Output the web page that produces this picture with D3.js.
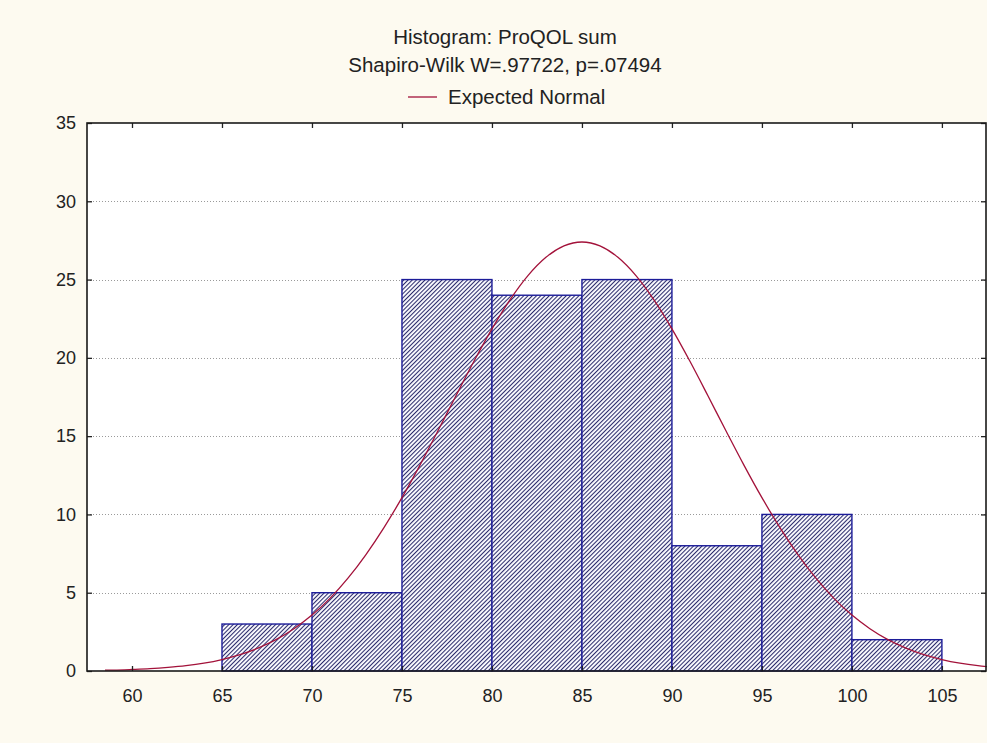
<!DOCTYPE html>
<html>
<head>
<meta charset="utf-8">
<script src="https://cdn.jsdelivr.net/npm/d3@7"></script>
<style>
  body { margin: 0; background: #fdfaf0; }
  text { font-family: "Liberation Sans", Arial, sans-serif; fill: #222; }
</style>
</head>
<body>
<svg id="chart" width="987" height="743"></svg>
<script>
// histogram bins (lower edge, upper edge) and counts
var binStart = [65, 70, 75, 80, 85, 90, 95, 100];
var binEnd   = [70, 75, 80, 85, 90, 95, 100, 105];
var counts   = [3, 5, 25, 24, 25, 8, 10, 2];

// expected normal curve
var curveX = [58.5, 59, 60, 61, 62, 63, 64, 65, 66, 67, 68, 69, 70, 71, 72, 73, 74, 75, 76, 77, 78, 79, 80,
              81, 82, 83, 84, 85, 86, 87, 88, 89, 90, 91, 92, 93, 94, 95, 96, 97, 98, 99, 100,
              101, 102, 103, 104, 105, 106, 107, 107.5];
var curveY = [0.05, 0.06, 0.1, 0.15, 0.23, 0.34, 0.5, 0.73, 1.04, 1.46, 2.0, 2.7, 3.57, 4.64, 5.93, 7.44, 9.16, 11.07, 13.15, 15.34, 17.58, 19.78, 21.85,
              23.7, 25.25, 26.42, 27.15, 27.4, 27.15, 26.42, 25.25, 23.7, 21.85, 19.78, 17.58, 15.34, 13.15, 11.07, 9.16, 7.44, 5.93, 4.64, 3.57,
              2.7, 2.0, 1.46, 1.04, 0.73, 0.5, 0.34, 0.28];

var xTicks = [60, 65, 70, 75, 80, 85, 90, 95, 100, 105];
var yTicks = [0, 5, 10, 15, 20, 25, 30, 35];

var titles = ["Histogram: ProQOL sum", "Shapiro-Wilk W=.97722, p=.07494"];
var legendLabel = "Expected Normal";

var W = 987, H = 743;
var L = 87, T = 123, R = 986, B = 671;

var svg = d3.select("#chart");

svg.append("rect").attr("width", W).attr("height", H).attr("fill", "#fdfaf0");

var x = d3.scaleLinear().domain([57.5, 107.45]).range([L, R]);
var y = d3.scaleLinear().domain([0, 35]).range([B, T]);

// hatch pattern
var defs = svg.append("defs");
defs.append("pattern")
  .attr("id", "hatch")
  .attr("patternUnits", "userSpaceOnUse")
  .attr("width", 3).attr("height", 3)
  .attr("patternTransform", "rotate(45)")
  .call(p => {
    p.append("rect").attr("width", 3).attr("height", 3).attr("fill", "#fbfbff");
    p.append("line").attr("x1", 0.5).attr("y1", 0).attr("x2", 0.5).attr("y2", 3)
      .attr("stroke", "#2b2b6b").attr("stroke-width", 1.1);
  });

// plot background
svg.append("rect").attr("x", L).attr("y", T).attr("width", R - L).attr("height", B - T).attr("fill", "#ffffff");

// grid lines
svg.append("g").selectAll("line").data(yTicks.filter(d => d > 0 && d < 35)).join("line")
  .attr("x1", L).attr("x2", R)
  .attr("y1", d => Math.round(y(d)) + 0.5).attr("y2", d => Math.round(y(d)) + 0.5)
  .attr("stroke", "#9a9a9a").attr("stroke-width", 1).attr("stroke-dasharray", "1,2");

// bars
svg.append("g").selectAll("rect").data(counts).join("rect")
  .attr("x", (d, i) => x(binStart[i]))
  .attr("y", d => y(d))
  .attr("width", (d, i) => x(binEnd[i]) - x(binStart[i]))
  .attr("height", d => B - y(d))
  .attr("fill", "url(#hatch)")
  .attr("stroke", "#1c1c99").attr("stroke-width", 1.4);

// expected normal curve
var pts = curveX.map((v, i) => [v, curveY[i]]);
svg.append("path")
  .datum(pts)
  .attr("fill", "none")
  .attr("stroke", "#a3123a").attr("stroke-width", 1.3)
  .attr("d", d3.line().x(d => x(d[0])).y(d => y(d[1])).curve(d3.curveMonotoneX));

// axes (ticks pointing inward)
var tickStyle = g => {
  g.select(".domain").remove();
  g.attr("font-size", null).attr("font-family", null);
  g.selectAll(".tick line").attr("stroke", "#222").attr("stroke-width", 1.3);
  g.selectAll(".tick text").style("font-size", "18px").attr("fill", "#222");
};

svg.append("g").attr("transform", `translate(0,${B})`)
  .call(d3.axisBottom(x).tickValues(xTicks).tickSizeInner(-5).tickSizeOuter(0).tickPadding(18))
  .call(tickStyle);

svg.append("g").attr("transform", `translate(0,${T})`)
  .call(d3.axisTop(x).tickValues(xTicks).tickSizeInner(-5).tickSizeOuter(0).tickFormat(""))
  .call(tickStyle);

svg.append("g").attr("transform", `translate(${L},0)`)
  .call(d3.axisLeft(y).tickValues(yTicks).tickSizeInner(-5).tickSizeOuter(0).tickPadding(11))
  .call(tickStyle);

svg.append("g").attr("transform", `translate(${R},0)`)
  .call(d3.axisRight(y).tickValues(yTicks).tickSizeInner(-5).tickSizeOuter(0).tickFormat(""))
  .call(tickStyle);

// frame
svg.append("rect").attr("x", L).attr("y", T).attr("width", R - L).attr("height", B - T)
  .attr("fill", "none").attr("stroke", "#1a1a1a").attr("stroke-width", 1.6);

// titles
svg.selectAll("text.title").data(titles).join("text")
  .attr("class", "title")
  .attr("x", 505).attr("y", (d, i) => 44 + i * 28)
  .attr("text-anchor", "middle")
  .style("font-size", "20.5px")
  .text(d => d);

// legend
svg.append("line").attr("x1", 408).attr("x2", 437).attr("y1", 97).attr("y2", 97)
  .attr("stroke", "#a3123a").attr("stroke-width", 1.3);
svg.append("text").attr("x", 448).attr("y", 104).style("font-size", "20.5px").text(legendLabel);
</script>
</body>
</html>
